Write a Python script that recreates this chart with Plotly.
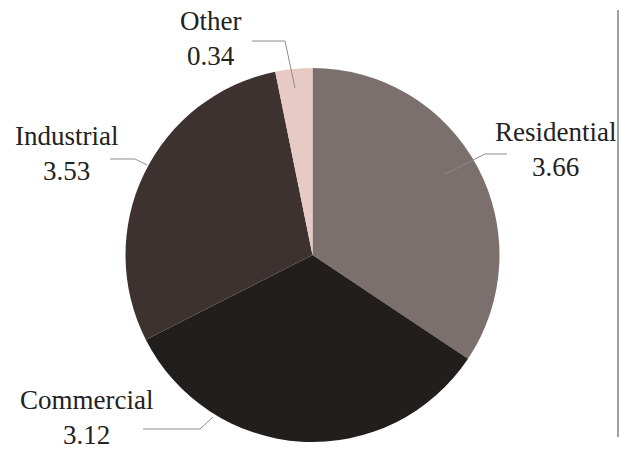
import plotly.graph_objects as go

W, H = 621, 452

categories = ["Residential", "Commercial", "Industrial", "Other"]
# slice sizes as drawn in the picture (the printed labels of the two middle
# slices do not match their drawn sizes in the original)
slice_sizes = [3.66, 3.53, 3.12, 0.34]
value_labels = ["3.66", "3.12", "3.53", "0.34"]
colors = ["#7b706d", "#221e1d", "#3e3230", "#e7cac3"]

# label layout (pixel positions of label block centres and leader polylines)
label_pos = {
    "Residential": (555, 150),
    "Commercial": (86, 417),
    "Industrial": (66, 153),
    "Other": (210, 39),
}
leaders = {
    "Residential": [(507, 154), (485, 154), (445, 174)],
    "Commercial": [(143, 429), (200, 429), (213, 417)],
    "Industrial": [(110, 159), (135, 159), (147, 165)],
    "Other": [(252, 41), (285, 41), (295, 88)],
}

FONT = "Liberation Serif, Times New Roman, Times, DejaVu Serif, serif"


def px(x):
    return x / W


def py(y):
    return 1 - y / H


fig = go.Figure(go.Pie(
    labels=categories,
    values=slice_sizes,
    sort=False,
    direction="clockwise",
    rotation=0,
    marker=dict(colors=colors, line=dict(width=0)),
    textinfo="none",
    hoverinfo="label",
    domain=dict(x=[px(125.5), px(499.5)], y=[py(442), py(68)]),
    showlegend=False,
))

shapes = []
for cat in categories:
    pts = leaders[cat]
    path = "M " + " L ".join(f"{px(x)},{py(y)}" for x, y in pts)
    shapes.append(dict(type="path", xref="paper", yref="paper", path=path,
                       line=dict(color="#8c8c8c", width=1)))
shapes.append(dict(type="line", xref="paper", yref="paper",
                   x0=px(618), x1=px(618), y0=py(10), y1=py(437),
                   line=dict(color="#a0a0a0", width=2)))

annotations = []
for cat, val in zip(categories, value_labels):
    x, y = label_pos[cat]
    annotations.append(dict(
        x=px(x), y=py(y), xref="paper", yref="paper",
        text=f"{cat}<br>{val}", showarrow=False,
        xanchor="center", yanchor="middle", align="center",
        font=dict(family=FONT, size=27, color="#222222"),
    ))

fig.update_layout(
    width=W, height=H,
    margin=dict(l=0, r=0, t=0, b=0),
    paper_bgcolor="white", plot_bgcolor="white",
    font=dict(family=FONT),
    shapes=shapes, annotations=annotations,
)

fig.write_html("out.html")
